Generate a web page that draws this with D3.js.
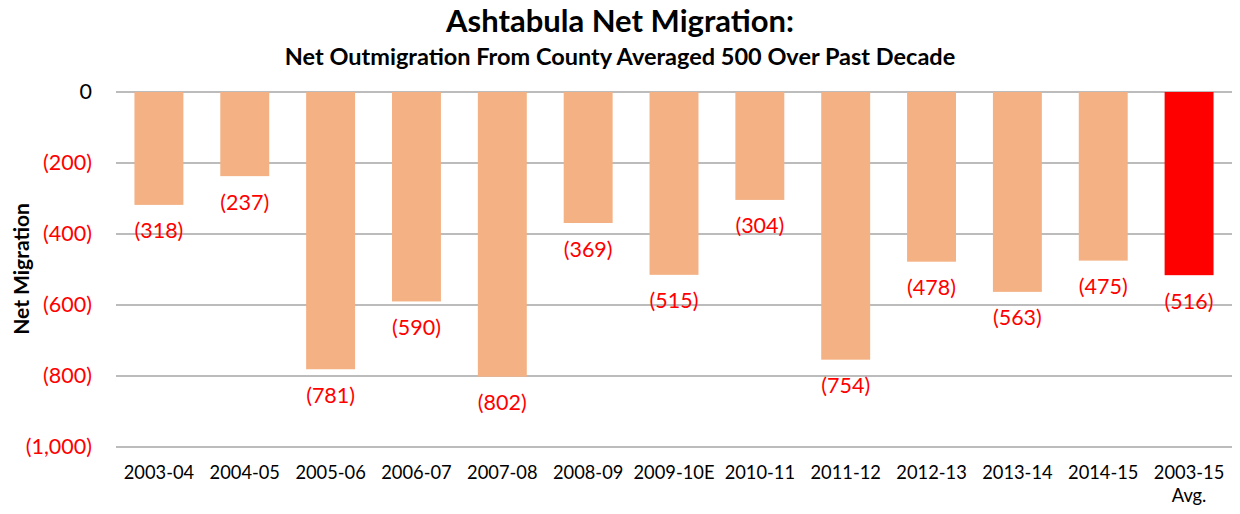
<!DOCTYPE html>
<html>
<head>
<meta charset="utf-8">
<script src="https://cdn.jsdelivr.net/npm/d3@7"></script>
<style>
  body { margin: 0; background: #fff; }
  svg { font-family: Lato, "Open Sans", sans-serif; }
</style>
</head>
<body>
<div class="chart"></div>
<script>
// chart data
var categories = ["2003-04", "2004-05", "2005-06", "2006-07", "2007-08", "2008-09", "2009-10E",
  "2010-11", "2011-12", "2012-13", "2013-14", "2014-15", "2003-15 Avg."];
var netMigration = [-318, -237, -781, -590, -802, -369, -515, -304, -754, -478, -563, -475, -516];
var yTicks = [0, -200, -400, -600, -800, -1000];

var svgWidth = 1240;
var svgHeight = 514;

var margin = { top: 92, right: 8, bottom: 67, left: 116 };
var width = svgWidth - margin.left - margin.right;
var height = svgHeight - margin.top - margin.bottom;

var svg = d3.select(".chart")
  .append("svg")
  .attr("width", svgWidth)
  .attr("height", svgHeight);

var chartGroup = svg.append("g")
  .attr("transform", `translate(${margin.left}, ${margin.top})`);

var xScale = d3.scaleBand()
  .domain(categories)
  .range([0, width])
  .paddingInner(0.43)
  .paddingOuter(0.215);

var yScale = d3.scaleLinear()
  .domain([0, -1000])
  .range([0, height]);

// number format: negatives in parentheses
var fmt = d3.format(",");
function paren(v) {
  return v < 0 ? "(" + fmt(-v) + ")" : fmt(v);
}

// gridlines
chartGroup.selectAll(".grid")
  .data(yTicks)
  .enter()
  .append("line")
  .attr("x1", 0)
  .attr("x2", width)
  .attr("y1", d => yScale(d))
  .attr("y2", d => yScale(d))
  .attr("stroke", "#a6a6a6")
  .attr("stroke-width", 1.3);

// y axis labels
var leftAxis = d3.axisLeft(yScale)
  .tickValues(yTicks)
  .tickFormat(paren)
  .tickSize(0)
  .tickPadding(24);

var yAxis = chartGroup.append("g").call(leftAxis);
yAxis.select(".domain").remove();
yAxis.selectAll("text")
  .attr("font-size", 21.5)
  .attr("font-family", "Lato, sans-serif")
  .attr("fill", d => d < 0 ? "#ff0000" : "#000");

// bars
chartGroup.selectAll("rect")
  .data(netMigration)
  .enter()
  .append("rect")
  .attr("x", (d, i) => xScale(categories[i]))
  .attr("y", 0)
  .attr("width", xScale.bandwidth())
  .attr("height", d => yScale(d) - yScale(0))
  .attr("fill", (d, i) => i === categories.length - 1 ? "#ff0000" : "#f4b183");

// value labels
chartGroup.selectAll(".value")
  .data(netMigration)
  .enter()
  .append("text")
  .attr("x", (d, i) => xScale(categories[i]) + xScale.bandwidth() / 2)
  .attr("y", d => yScale(d) + 26)
  .attr("dy", "0.35em")
  .attr("text-anchor", "middle")
  .attr("font-size", 21.5)
  .attr("fill", "#ff0000")
  .text(paren);

// x axis labels
var bottomAxis = d3.axisBottom(xScale).tickSize(0).tickPadding(19);
var xAxis = chartGroup.append("g")
  .attr("transform", `translate(0, ${height})`)
  .call(bottomAxis);
xAxis.select(".domain").remove();
xAxis.selectAll("text")
  .attr("font-size", 18.3)
  .attr("font-family", "Lato, sans-serif")
  .attr("fill", "#000")
  .each(function(d) {
    var t = d3.select(this);
    if (d.indexOf(" ") > -1) {
      var parts = d.split(" ");
      t.text(null);
      t.append("tspan").attr("x", 0).text(parts[0]);
      t.append("tspan").attr("x", 0).attr("dy", 23).text(parts[1]);
    }
  });

// y axis title
svg.append("text")
  .attr("transform", "translate(29, 269) rotate(-90)")
  .attr("text-anchor", "middle")
  .attr("font-size", 21)
  .attr("font-weight", "bold")
  .text("Net Migration");

// titles
svg.append("text")
  .attr("x", 620)
  .attr("y", 32)
  .attr("text-anchor", "middle")
  .attr("font-size", 31)
  .attr("font-weight", "bold")
  .text("Ashtabula Net Migration:");

svg.append("text")
  .attr("x", 620)
  .attr("y", 65)
  .attr("text-anchor", "middle")
  .attr("font-size", 23.5)
  .attr("font-weight", "bold")
  .text("Net Outmigration From County Averaged 500 Over Past Decade");
</script>
</body>
</html>
